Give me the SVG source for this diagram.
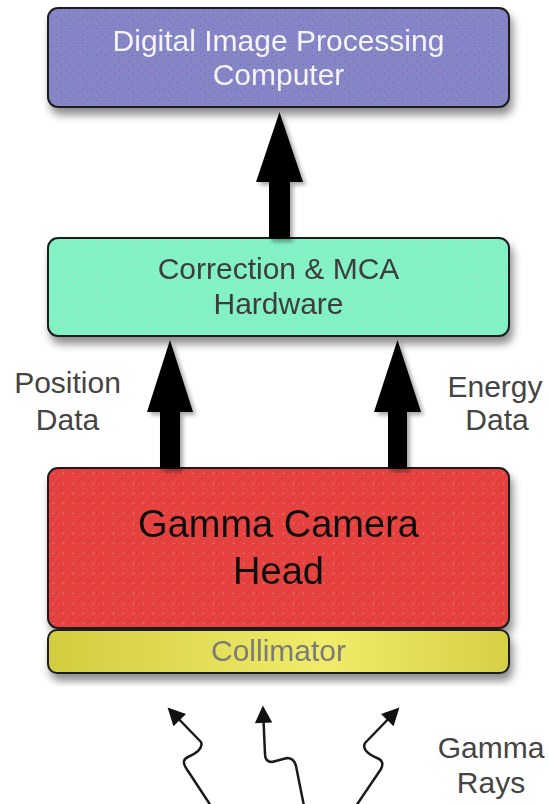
<svg xmlns="http://www.w3.org/2000/svg" width="549" height="804" viewBox="0 0 549 804">
  <defs>
    <filter id="shadow" x="-10%" y="-10%" width="125%" height="140%">
      <feGaussianBlur in="SourceAlpha" stdDeviation="4"/>
      <feOffset dx="3" dy="7" result="b"/>
      <feComponentTransfer><feFuncA type="linear" slope="0.45"/></feComponentTransfer>
      <feMerge><feMergeNode/><feMergeNode in="SourceGraphic"/></feMerge>
    </filter>
    <filter id="arrowShadow" x="-30%" y="-10%" width="170%" height="130%">
      <feGaussianBlur in="SourceAlpha" stdDeviation="2"/>
      <feOffset dx="3" dy="3" result="b"/>
      <feComponentTransfer><feFuncA type="linear" slope="0.35"/></feComponentTransfer>
      <feMerge><feMergeNode/><feMergeNode in="SourceGraphic"/></feMerge>
    </filter>
    <!-- stipple textures -->
    <pattern id="texPurple" width="9" height="9" patternUnits="userSpaceOnUse">
      <rect width="9" height="9" fill="#8785c8"/>
      <rect x="1" y="2" width="1" height="1" fill="#4f9fa6"/>
      <rect x="5" y="6" width="1" height="1" fill="#4f9fa6"/>
      <rect x="6" y="1" width="1" height="1" fill="#6b69a8"/>
      <rect x="2" y="7" width="1" height="1" fill="#6b69a8"/>
    </pattern>
    <pattern id="texGreen" width="9" height="9" patternUnits="userSpaceOnUse">
      <rect width="9" height="9" fill="#80f2c3"/>
      <rect x="2" y="2" width="1" height="1" fill="#e6c8d8"/>
      <rect x="6" y="6" width="1" height="1" fill="#e6c8d8"/>
    </pattern>
    <pattern id="texRed" width="10" height="10" patternUnits="userSpaceOnUse">
      <rect width="10" height="10" fill="#e8433f"/>
      <path d="M0 10 L10 0 M-2 2 L2 -2 M8 12 L12 8" stroke="#d83a37" stroke-width="1"/>
      <rect x="3" y="3" width="1.2" height="1.2" fill="#b99a98"/>
    </pattern>
    <linearGradient id="gradYellow" x1="0" y1="0" x2="1" y2="0">
      <stop offset="0" stop-color="#d2cc3e"/>
      <stop offset="0.6" stop-color="#f0ec6a"/>
      <stop offset="1" stop-color="#d6d044"/>
    </linearGradient>
    <marker id="rayHead" viewBox="0 0 10 10" refX="8" refY="5" markerWidth="8" markerHeight="7" markerUnits="strokeWidth" orient="auto">
      <path d="M0,0 L10,5 L0,10 Z" fill="#111"/>
    </marker>
    <style>
      .box { stroke: #1e1e1e; stroke-width: 2; }
      .lbl { font-family: "Liberation Sans", Arial, Helvetica, sans-serif; text-anchor: middle; }
      .big { font-size: 30px; }
      .ray { fill: none; stroke: #1a1a1a; stroke-width: 2.5; stroke-linejoin: round; stroke-linecap: round; }
    </style>
  </defs>

  <rect width="549" height="804" fill="#ffffff"/>

  <!-- Digital image processing computer -->
  <g id="computer" filter="url(#shadow)">
    <rect class="box" x="48" y="8" width="461" height="99" rx="10" fill="url(#texPurple)"/>
    <text class="lbl big" x="278.5" y="51" fill="#f4f4fa">Digital Image Processing</text>
    <text class="lbl big" x="278.5" y="85" fill="#f4f4fa">Computer</text>
  </g>

  <!-- Correction & MCA hardware -->
  <g id="hardware" filter="url(#shadow)">
    <rect class="box" x="48" y="238" width="461" height="98" rx="10" fill="url(#texGreen)"/>
    <text class="lbl big" x="278.5" y="279" fill="#3c3c3c">Correction &amp; MCA</text>
    <text class="lbl big" x="278.5" y="314" fill="#3c3c3c">Hardware</text>
  </g>

  <!-- Gamma camera head -->
  <g id="camera-head" filter="url(#shadow)">
    <rect class="box" x="48" y="468" width="461" height="160" rx="10" fill="url(#texRed)"/>
    <text class="lbl" x="278.5" y="537" font-size="38" fill="#111">Gamma Camera</text>
    <text class="lbl" x="278.5" y="584" font-size="38" fill="#111">Head</text>
  </g>

  <!-- Collimator -->
  <g id="collimator" filter="url(#shadow)">
    <rect class="box" x="48" y="630" width="461" height="43" rx="9" fill="url(#gradYellow)"/>
    <text class="lbl big" x="278.5" y="661" fill="#7a7a7a">Collimator</text>
  </g>

  <!-- Connectors -->
  <g id="connectors">
    <g filter="url(#arrowShadow)" fill="#000">
      <polygon points="279.5,112 303,182 290,182 290,239 269,239 269,182 256,182"/>
      <polygon points="170,340 193,412 180,412 180,469 160,469 160,412 147,412"/>
      <polygon points="397.5,340 421,412 407,412 407,469 388,469 388,412 374,412"/>
    </g>
    <path class="ray" marker-end="url(#rayHead)" d="M211,806 L186,768 Q181,760 188,757 Q204,750 201,742 L170,710"/>
    <path class="ray" marker-end="url(#rayHead)" d="M304,806 L296,766 Q294,758 287,758 L272,762 Q265,762 265,754 L263,709"/>
    <path class="ray" marker-end="url(#rayHead)" d="M356,806 L381,769 Q385,761 377,758 Q361,751 365,743 L397,710"/>
  </g>

  <!-- Side labels -->
  <g id="labels" class="lbl big" fill="#444">
    <text x="67.5" y="393">Position</text>
    <text x="67.5" y="430">Data</text>
    <text x="495" y="397">Energy</text>
    <text x="497" y="430">Data</text>
    <text x="491" y="758">Gamma</text>
    <text x="491" y="793">Rays</text>
  </g>
</svg>
